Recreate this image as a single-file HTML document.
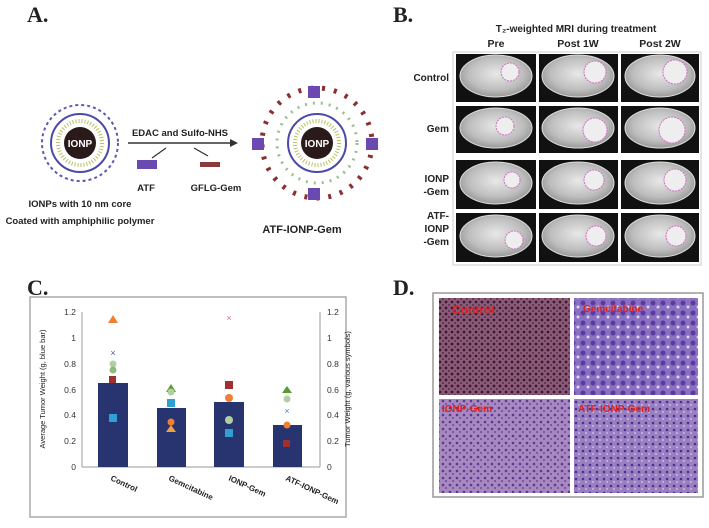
<!DOCTYPE html>
<html><head><meta charset="utf-8"><style>
body{margin:0;background:#fff;}
svg text{font-family:"Liberation Sans",sans-serif;}
</style></head><body>
<svg width="709" height="523" viewBox="0 0 709 523" xmlns="http://www.w3.org/2000/svg">
<defs>
<radialGradient id="mri" cx="50%" cy="45%" r="55%"><stop offset="0" stop-color="#e8e8e8"/><stop offset="0.7" stop-color="#bdbdbd"/><stop offset="1" stop-color="#999"/></radialGradient>
<pattern id="hc" width="6" height="6" patternUnits="userSpaceOnUse"><rect width="6" height="6" fill="#8a5a78"/><circle cx="2" cy="2" r="1.4" fill="#3a1a2a"/><circle cx="5" cy="5" r="1" fill="#5a2a4a"/></pattern>
<pattern id="hg" width="10" height="10" patternUnits="userSpaceOnUse"><rect width="10" height="10" fill="#8a70c0"/><circle cx="3" cy="3" r="2.5" fill="#5a3aa0"/><circle cx="8" cy="7" r="1.5" fill="#dcd4ee"/></pattern>
<pattern id="hi" width="7" height="7" patternUnits="userSpaceOnUse"><rect width="7" height="7" fill="#a888c0"/><circle cx="2" cy="2" r="1.3" fill="#5a3a8a"/><circle cx="5" cy="5" r="1" fill="#6a4a9a"/></pattern>
<pattern id="ha" width="7" height="7" patternUnits="userSpaceOnUse"><rect width="7" height="7" fill="#9a80c0"/><circle cx="2" cy="3" r="1.3" fill="#4a3090"/><circle cx="5" cy="6" r="1" fill="#c8b8e0"/></pattern>
</defs>
<!-- Panel labels -->
<g font-family="Liberation Serif,serif" font-weight="bold" font-size="22" fill="#222">
<text x="27" y="22" style="font-family:'Liberation Serif',serif">A.</text>
<text x="393" y="22" style="font-family:'Liberation Serif',serif">B.</text>
<text x="27" y="295" style="font-family:'Liberation Serif',serif">C.</text>
<text x="393" y="295" style="font-family:'Liberation Serif',serif">D.</text>
</g>
<!-- Panel A -->
<g>
<circle cx="80" cy="143" r="38" fill="none" stroke="#5a5ab0" stroke-width="2" stroke-dasharray="3 3"/>
<circle cx="80" cy="143" r="29" fill="none" stroke="#4a4aa8" stroke-width="2"/>
<circle cx="80" cy="143" r="22" fill="none" stroke="#b8c060" stroke-width="4" stroke-dasharray="1 2"/>
<circle cx="80" cy="143" r="16" fill="#2a1a1a"/>
<text x="80" y="147" font-size="10" fill="#fff" text-anchor="middle" font-weight="bold">IONP</text>
<line x1="128" y1="143" x2="234" y2="143" stroke="#333" stroke-width="1.5"/>
<polygon points="238,143 230,139 230,147" fill="#333"/>
<line x1="152" y1="158" x2="166" y2="148" stroke="#333" stroke-width="1.2"/>
<line x1="208" y1="156" x2="194" y2="148" stroke="#333" stroke-width="1.2"/>
<text x="180" y="136" font-size="9.5" text-anchor="middle" font-weight="bold" fill="#222">EDAC and Sulfo-NHS</text>
<rect x="137" y="160" width="20" height="9" fill="#6a4ab0"/>
<rect x="200" y="162" width="20" height="5" fill="#8a3a3a"/>
<text x="146" y="191" font-size="9.5" text-anchor="middle" font-weight="bold" fill="#222">ATF</text>
<text x="216" y="191" font-size="9.5" text-anchor="middle" font-weight="bold" fill="#222">GFLG-Gem</text>
<text x="80" y="207" font-size="9.5" text-anchor="middle" font-weight="bold" fill="#222">IONPs with 10 nm core</text>
<text x="80" y="224" font-size="9.5" text-anchor="middle" font-weight="bold" fill="#222">Coated with amphiphilic polymer</text>
<circle cx="317" cy="143" r="55" fill="none" stroke="#8a3030" stroke-width="5" stroke-dasharray="3 9"/>
<circle cx="317" cy="143" r="40" fill="none" stroke="#9ac090" stroke-width="3" stroke-dasharray="2 6"/>
<circle cx="317" cy="143" r="29" fill="none" stroke="#4a4aa8" stroke-width="2"/>
<circle cx="317" cy="143" r="22" fill="none" stroke="#b8c060" stroke-width="4" stroke-dasharray="1 2"/>
<circle cx="317" cy="143" r="16" fill="#2a1a1a"/>
<text x="317" y="147" font-size="10" fill="#fff" text-anchor="middle" font-weight="bold">IONP</text>
<rect x="308" y="86" width="12" height="12" fill="#6a4ab0"/>
<rect x="308" y="188" width="12" height="12" fill="#6a4ab0"/>
<rect x="252" y="138" width="12" height="12" fill="#6a4ab0"/>
<rect x="366" y="138" width="12" height="12" fill="#6a4ab0"/>
<text x="302" y="233" font-size="11" text-anchor="middle" font-weight="bold" fill="#222">ATF-IONP-Gem</text>
</g>
<!-- Panel B -->
<g>
<text x="576" y="32" font-size="10" text-anchor="middle" font-weight="bold" fill="#222">T₂-weighted MRI during treatment</text>
<text x="496" y="47" font-size="10.5" text-anchor="middle" font-weight="bold" fill="#222">Pre</text>
<text x="578" y="47" font-size="10.5" text-anchor="middle" font-weight="bold" fill="#222">Post 1W</text>
<text x="660" y="47" font-size="10.5" text-anchor="middle" font-weight="bold" fill="#222">Post 2W</text>
<rect x="453" y="52" width="248" height="213" fill="#fff" stroke="#ccc"/>
<g font-size="10" font-weight="bold" fill="#222" text-anchor="end">
<text x="449" y="81">Control</text>
<text x="449" y="132">Gem</text>
<text x="449" y="182">IONP</text><text x="449" y="195">-Gem</text>
<text x="449" y="219">ATF-</text><text x="449" y="232">IONP</text><text x="449" y="245">-Gem</text>
</g>
<g id="cells">
<rect x="456" y="54" width="80" height="48" fill="#111"/><rect x="539" y="54" width="79" height="48" fill="#111"/><rect x="621" y="54" width="78" height="48" fill="#111"/>
<rect x="456" y="106" width="80" height="47" fill="#111"/><rect x="539" y="106" width="79" height="47" fill="#111"/><rect x="621" y="106" width="78" height="47" fill="#111"/>
<rect x="456" y="160" width="80" height="49" fill="#111"/><rect x="539" y="160" width="79" height="49" fill="#111"/><rect x="621" y="160" width="78" height="49" fill="#111"/>
<rect x="456" y="213" width="80" height="49" fill="#111"/><rect x="539" y="213" width="79" height="49" fill="#111"/><rect x="621" y="213" width="78" height="49" fill="#111"/>
</g>
<g fill="url(#mri)" stroke="#ddd">
<ellipse cx="496" cy="76" rx="36" ry="21"/><ellipse cx="578" cy="76" rx="36" ry="21"/><ellipse cx="660" cy="76" rx="35" ry="21"/>
<ellipse cx="496" cy="128" rx="36" ry="20"/><ellipse cx="578" cy="128" rx="36" ry="20"/><ellipse cx="660" cy="128" rx="35" ry="20"/>
<ellipse cx="496" cy="183" rx="36" ry="21"/><ellipse cx="578" cy="183" rx="36" ry="21"/><ellipse cx="660" cy="183" rx="35" ry="21"/>
<ellipse cx="496" cy="236" rx="36" ry="21"/><ellipse cx="578" cy="236" rx="36" ry="21"/><ellipse cx="660" cy="236" rx="35" ry="21"/>
</g>
<g fill="#eee" stroke="#d070c0" stroke-dasharray="2 1">
<circle cx="510" cy="72" r="9"/><circle cx="595" cy="72" r="11"/><circle cx="675" cy="72" r="12"/>
<circle cx="505" cy="126" r="9"/><circle cx="595" cy="130" r="12"/><circle cx="672" cy="130" r="13"/>
<circle cx="512" cy="180" r="8"/><circle cx="594" cy="180" r="10"/><circle cx="675" cy="180" r="11"/>
<circle cx="514" cy="240" r="9"/><circle cx="596" cy="236" r="10"/><circle cx="676" cy="236" r="10"/>
</g>
</g>
<!-- Panel C -->
<g>
<rect x="30" y="297" width="316" height="220" fill="#fff" stroke="#aaa" stroke-width="1.5"/>
<line x1="82" y1="312" x2="82" y2="467" stroke="#999"/>
<line x1="320" y1="312" x2="320" y2="467" stroke="#999"/>
<line x1="82" y1="467" x2="320" y2="467" stroke="#999"/>
<g font-size="8.5" fill="#333" text-anchor="end">
<text x="76" y="315">1.2</text><text x="76" y="341">1</text><text x="76" y="367">0.8</text><text x="76" y="393">0.6</text><text x="76" y="418">0.4</text><text x="76" y="444">0.2</text><text x="76" y="470">0</text>
</g>
<g font-size="8.5" fill="#333">
<text x="327" y="315">1.2</text><text x="327" y="341">1</text><text x="327" y="367">0.8</text><text x="327" y="393">0.6</text><text x="327" y="418">0.4</text><text x="327" y="444">0.2</text><text x="327" y="470">0</text>
</g>
<text transform="translate(45,389) rotate(-90)" font-size="7.5" text-anchor="middle" fill="#222">Average Tumor Weight (g, blue bar)</text>
<text transform="translate(350,389) rotate(-90)" font-size="7.5" text-anchor="middle" fill="#222">Tumor Weight (g, various symbols)</text>
<g fill="#283470">
<rect x="98" y="383" width="30" height="84"/>
<rect x="157" y="408" width="29" height="59"/>
<rect x="214" y="402" width="30" height="65"/>
<rect x="273" y="425" width="29" height="42"/>
</g>
<g>
<polygon points="113,315 108,323 118,323" fill="#f08030"/>
<text x="113" y="356" font-size="9" fill="#5050a0" text-anchor="middle">×</text>
<circle cx="113" cy="364" r="3.5" fill="#b0d0a0"/><circle cx="113" cy="370" r="3.5" fill="#90b880"/>
<rect x="109" y="376" width="7" height="7" fill="#a03030"/>
<rect x="109" y="414" width="8" height="8" fill="#30a0d0"/>
<polygon points="171,384 166,392 176,392" fill="#5a9a30"/>
<rect x="167" y="399" width="8" height="8" fill="#30a0d0"/>
<circle cx="171" cy="392" r="3.5" fill="#b0d0a0"/>
<circle cx="171" cy="422" r="3.5" fill="#f08030"/>
<polygon points="171,425 166,432 176,432" fill="#f0a040"/>
<text x="229" y="321" font-size="9" fill="#d07090" text-anchor="middle">×</text>
<rect x="225" y="381" width="8" height="8" fill="#a03030"/>
<circle cx="229" cy="398" r="4" fill="#f08030"/>
<circle cx="229" cy="420" r="4" fill="#b0d0a0"/>
<rect x="225" y="429" width="8" height="8" fill="#30a0d0"/>
<polygon points="287,386 282,393 292,393" fill="#5a9a30"/>
<circle cx="287" cy="399" r="3.5" fill="#b0d0a0"/>
<text x="287" y="414" font-size="9" fill="#6080c0" text-anchor="middle">×</text>
<circle cx="287" cy="425" r="3.5" fill="#f08030"/>
<rect x="283" y="440" width="7" height="7" fill="#a03030"/>
</g>
<g font-size="8" font-weight="bold" fill="#222">
<text transform="translate(110,480) rotate(25)">Control</text>
<text transform="translate(168,480) rotate(25)">Gemcitabine</text>
<text transform="translate(228,480) rotate(25)">IONP-Gem</text>
<text transform="translate(285,480) rotate(25)">ATF-IONP-Gem</text>
</g>
</g>
<!-- Panel D -->
<g>
<rect x="433" y="293" width="270" height="204" fill="#fff" stroke="#999" stroke-width="1.5"/>
<rect x="439" y="298" width="131" height="97" fill="url(#hc)"/>
<rect x="574" y="298" width="124" height="97" fill="url(#hg)"/>
<rect x="439" y="399" width="131" height="94" fill="url(#hi)"/>
<rect x="574" y="399" width="124" height="94" fill="url(#ha)"/>
<g font-size="12" font-weight="bold" fill="#e02020">
<text x="452" y="314">Control</text>
<text x="583" y="312" font-size="10">Gemcitabine</text>
<text x="442" y="412" font-size="10">IONP-Gem</text>
<text x="578" y="412" font-size="10">ATF-IONP-Gem</text>
</g>
</g>
</svg>
</body></html>
